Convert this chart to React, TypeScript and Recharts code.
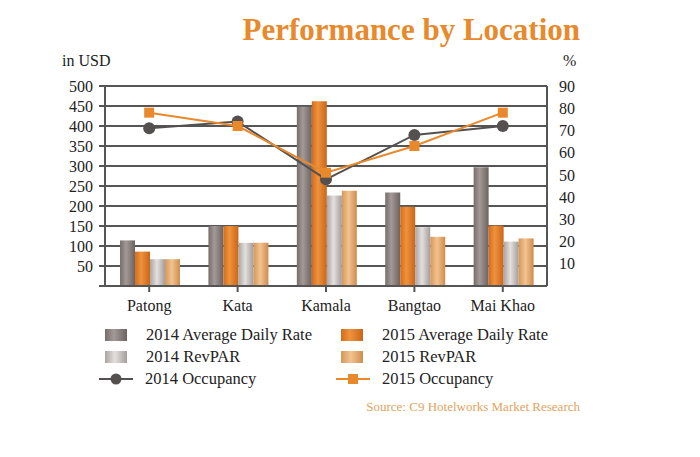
import {
  Bar,
  CartesianGrid,
  ComposedChart,
  Line,
  XAxis,
  YAxis,
} from "recharts";

const locations = ["Patong", "Kata", "Kamala", "Bangtao", "Mai Khao"];
const adr2014 = [114, 150, 448, 234, 297];
const adr2015 = [86, 150, 462, 198, 151];
const revpar2014 = [67, 108, 226, 147, 111];
const revpar2015 = [67, 108, 238, 123, 119];
const occ2014 = [71, 74, 48, 68, 72];
const occ2015 = [78, 72, 51, 63, 78];

const usdTicks = [0, 50, 100, 150, 200, 250, 300, 350, 400, 450, 500];
const pctTicks = [0, 10, 20, 30, 40, 50, 60, 70, 80, 90];

const data = locations.map((name, i) => ({
  name,
  adr2014: adr2014[i],
  adr2015: adr2015[i],
  revpar2014: revpar2014[i],
  revpar2015: revpar2015[i],
  occ2014: occ2014[i],
  occ2015: occ2015[i],
}));

const FONT = "'Liberation Serif', 'DejaVu Serif', serif";
const ORANGE = "#e8892c";
const DARK = "#555050";

const SquareDot = (props: any) => {
  const { cx, cy } = props;
  if (cx == null || cy == null) return null;
  return <rect x={cx - 5} y={cy - 5} width={10} height={10} fill={ORANGE} />;
};

function Swatch({ grad }: { grad: string }) {
  return (
    <div style={{ width: 22, height: 12, background: grad, marginRight: 19 }} />
  );
}

function LineKey({ color, square }: { color: string; square?: boolean }) {
  return (
    <svg width={34} height={14} style={{ marginRight: 12 }}>
      <line x1={0} y1={7} x2={34} y2={7} stroke={color} strokeWidth={2} />
      {square ? (
        <rect x={12} y={2} width={10} height={10} fill={color} />
      ) : (
        <circle cx={17} cy={7} r={5.5} fill={color} />
      )}
    </svg>
  );
}

const grad2014Adr = "linear-gradient(90deg,#766c69,#a39a97 40%,#6c6260)";
const grad2015Adr = "linear-gradient(90deg,#d26c1c,#f0923c 40%,#c9661a)";
const grad2014Rev = "linear-gradient(90deg,#aaa4a2,#e4e0de 45%,#a39d9b)";
const grad2015Rev = "linear-gradient(90deg,#d4975a,#f2c38f 45%,#cf8c4e)";

const legendRows = [
  [
    { label: "2014 Average Daily Rate", key: <Swatch grad={grad2014Adr} /> },
    { label: "2015 Average Daily Rate", key: <Swatch grad={grad2015Adr} /> },
  ],
  [
    { label: "2014 RevPAR", key: <Swatch grad={grad2014Rev} /> },
    { label: "2015 RevPAR", key: <Swatch grad={grad2015Rev} /> },
  ],
  [
    { label: "2014 Occupancy", key: <LineKey color={DARK} /> },
    { label: "2015 Occupancy", key: <LineKey color={ORANGE} square /> },
  ],
];

export default function App() {
  const tick = { fontSize: 16, fill: "#222", fontFamily: FONT };
  return (
    <div
      style={{
        position: "absolute",
        left: 0,
        top: 0,
        width: 700,
        height: 457,
        background: "#fff",
        fontFamily: FONT,
      }}
    >
      <div
        style={{
          position: "absolute",
          right: 120,
          top: 12,
          fontSize: 31,
          fontWeight: "bold",
          color: ORANGE,
        }}
      >
        Performance by Location
      </div>
      <div style={{ position: "absolute", left: 62, top: 52, fontSize: 16, color: "#222" }}>
        in USD
      </div>
      <div style={{ position: "absolute", left: 563, top: 52, fontSize: 16, color: "#222" }}>
        %
      </div>

      <ComposedChart
        width={700}
        height={457}
        data={data}
        margin={{ top: 86, right: 103, bottom: 141, left: 55 }}
        barGap={0}
        barCategoryGap="17%"
        style={{ fontFamily: FONT }}
      >
        <defs>
          <linearGradient id="g14adr" x1="0" y1="0" x2="1" y2="0">
            <stop offset="0" stopColor="#766c69" />
            <stop offset="0.4" stopColor="#a39a97" />
            <stop offset="1" stopColor="#6c6260" />
          </linearGradient>
          <linearGradient id="g15adr" x1="0" y1="0" x2="1" y2="0">
            <stop offset="0" stopColor="#d26c1c" />
            <stop offset="0.4" stopColor="#f0923c" />
            <stop offset="1" stopColor="#c9661a" />
          </linearGradient>
          <linearGradient id="g14rev" x1="0" y1="0" x2="1" y2="0">
            <stop offset="0" stopColor="#aaa4a2" />
            <stop offset="0.45" stopColor="#e4e0de" />
            <stop offset="1" stopColor="#a39d9b" />
          </linearGradient>
          <linearGradient id="g15rev" x1="0" y1="0" x2="1" y2="0">
            <stop offset="0" stopColor="#d4975a" />
            <stop offset="0.45" stopColor="#f2c38f" />
            <stop offset="1" stopColor="#cf8c4e" />
          </linearGradient>
        </defs>
        <CartesianGrid vertical={false} stroke="#1e1e1e" strokeWidth={1.6} yAxisId="usd" />
        <XAxis
          dataKey="name"
          height={30}
          tick={tick}
          tickMargin={8}
          stroke="#555"
          strokeWidth={2}
          tickSize={6}
          interval={0}
        />
        <YAxis
          yAxisId="usd"
          width={50}
          domain={[0, 500]}
          ticks={usdTicks}
          interval={0}
          tickFormatter={(v) => (v === 0 ? "" : String(v))}
          tick={tick}
          stroke="#555"
          strokeWidth={2}
          tickSize={6}
          tickMargin={6}
        />
        <YAxis
          yAxisId="pct"
          orientation="right"
          width={50}
          domain={[0, 90]}
          ticks={pctTicks}
          interval={0}
          tickFormatter={(v) => (v === 0 ? "" : String(v))}
          tick={tick}
          stroke="#555"
          strokeWidth={2}
          tickLine={false}
          tickMargin={6}
        />
        <Bar yAxisId="usd" dataKey="adr2014" fill="url(#g14adr)" isAnimationActive={false} />
        <Bar yAxisId="usd" dataKey="adr2015" fill="url(#g15adr)" isAnimationActive={false} />
        <Bar yAxisId="usd" dataKey="revpar2014" fill="url(#g14rev)" isAnimationActive={false} />
        <Bar yAxisId="usd" dataKey="revpar2015" fill="url(#g15rev)" isAnimationActive={false} />
        <Line
          yAxisId="pct"
          dataKey="occ2014"
          stroke={DARK}
          strokeWidth={2}
          dot={{ r: 6, fill: DARK, stroke: DARK, strokeWidth: 0 }}
          isAnimationActive={false}
        />
        <Line
          yAxisId="pct"
          dataKey="occ2015"
          stroke={ORANGE}
          strokeWidth={2}
          dot={<SquareDot />}
          isAnimationActive={false}
        />
      </ComposedChart>

      <div style={{ position: "absolute", left: 0, top: 324, fontSize: 16.5, color: "#222" }}>
        {legendRows.map((row, r) => (
          <div key={r} style={{ position: "relative", height: 22 }}>
            {row.map((item, c) => (
              <div
                key={c}
                style={{
                  position: "absolute",
                  left: c === 0 ? (r === 2 ? 99 : 105) : r === 2 ? 336 : 341,
                  top: 0,
                  height: 22,
                  display: "flex",
                  alignItems: "center",
                  whiteSpace: "nowrap",
                }}
              >
                {item.key}
                <span>{item.label}</span>
              </div>
            ))}
          </div>
        ))}
      </div>

      <div
        style={{
          position: "absolute",
          right: 120,
          top: 399,
          fontSize: 13,
          color: "#e3a360",
        }}
      >
        Source: C9 Hotelworks Market Research
      </div>
    </div>
  );
}
